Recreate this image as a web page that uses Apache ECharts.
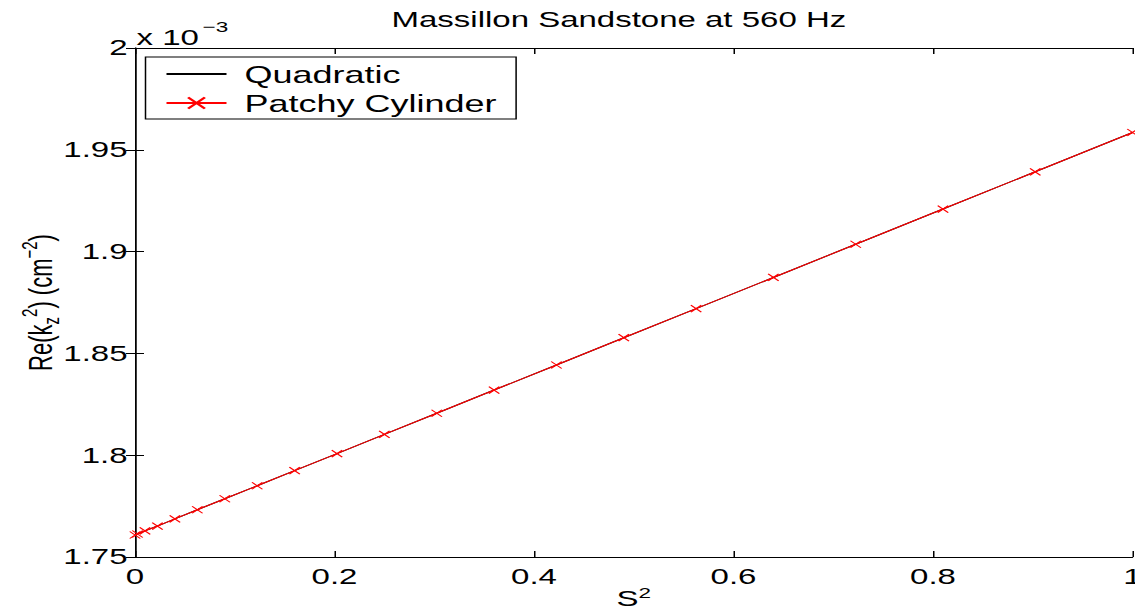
<!DOCTYPE html>
<html lang="en">
<head>
    <meta charset="UTF-8">
    <title>Massillon Sandstone at 560 Hz</title>
    <script src="https://cdn.jsdelivr.net/npm/echarts@6/dist/echarts.min.js"></script>
    <style>
        html, body { margin: 0; padding: 0; background: #fff; overflow: hidden; }
        /* the original figure is stretched sideways, so draw narrow and scale in x */
        #main { width: 757px; height: 615px; transform: scaleX(1.5); transform-origin: 0 0; }
    </style>
</head>
<body>
<div id="main"></div>
</body>
<script>
    // S^2 values where the patchy cylinder model was evaluated
    let sSquared = [0, 0.0025, 0.01, 0.0225, 0.04, 0.0625, 0.09, 0.1225, 0.16, 0.2025, 0.25,
        0.3025, 0.36, 0.4225, 0.49, 0.5625, 0.64, 0.7225, 0.81, 0.9025, 1];
    // Re(kz^2) in units of 1e-3 cm^-2
    let quadratic = [1.7608, 1.7613, 1.7628, 1.7652, 1.7687, 1.7732, 1.7786, 1.7850, 1.7924, 1.8008, 1.8102,
        1.8206, 1.8320, 1.8443, 1.8577, 1.8720, 1.8873, 1.9036, 1.9209, 1.9392, 1.9585];
    let patchy = [1.7608, 1.7613, 1.7628, 1.7652, 1.7687, 1.7732, 1.7786, 1.7850, 1.7924, 1.8008, 1.8102,
        1.8206, 1.8320, 1.8443, 1.8577, 1.8720, 1.8873, 1.9036, 1.9209, 1.9392, 1.9585];
    let seriesNames = ['Quadratic', 'Patchy Cylinder'];

    let font = 'Liberation Sans, Arial, Helvetica, sans-serif';
    let richY = {
        b: {fontSize: 22, fontFamily: font, color: '#000', lineHeight: 30},
        sup: {fontSize: 15, fontFamily: font, color: '#000', verticalAlign: 'top', lineHeight: 30},
        sub: {fontSize: 15, fontFamily: font, color: '#000', verticalAlign: 'bottom', lineHeight: 30}
    };
    let richX = {
        b: {fontSize: 22, fontFamily: font, color: '#000', lineHeight: 28},
        sup: {fontSize: 15, fontFamily: font, color: '#000', verticalAlign: 'top', lineHeight: 28}
    };
    let xMark = 'path://M0,0L10,10M10,0L0,10';
    let noMark = 'path://M0,0L1,1'; // zero-area, so nothing gets filled

    function pairs(xs, ys) {
        let out = [];
        for (let i = 0; i < xs.length; i++) out.push([xs[i], ys[i]]);
        return out;
    }

    let axisCommon = {
        axisLine: {show: true, lineStyle: {color: '#000', width: 1}},
        axisTick: {show: true, inside: true, length: 6, lineStyle: {color: '#000', width: 1}},
        splitLine: {show: false}
    };

    let myChart = echarts.init(document.getElementById('main'), null, {renderer: 'svg'});
    let option = {
        animation: false,
        backgroundColor: '#fff',
        title: {
            text: 'Massillon Sandstone at 560 Hz',
            left: 261,
            top: 9,
            padding: 0,
            textStyle: {fontSize: 22, fontWeight: 'normal', fontFamily: font, color: '#000'}
        },
        legend: {
            orient: 'vertical',
            left: 97,
            top: 57,
            padding: [5, 13, 4, 13],
            itemWidth: 40,
            itemHeight: 14,
            itemGap: 5,
            borderColor: '#000',
            borderWidth: 1,
            backgroundColor: '#fff',
            data: seriesNames,
            textStyle: {fontSize: 24, fontFamily: font, color: '#000', lineHeight: 24, padding: [0, 0, 0, 7]}
        },
        grid: {left: 90, right: 2, top: 48, bottom: 58, outerBoundsMode: 'none', containLabel: false},
        xAxis: [
            Object.assign({
                type: 'value',
                min: 0,
                max: 1,
                interval: 0.2,
                name: '{b|S}{sup|2}',
                nameLocation: 'middle',
                nameGap: 28,
                nameMoveOverlap: false,
                nameTextStyle: {rich: richX},
                axisLabel: {fontSize: 22, fontFamily: font, color: '#000', margin: 9}
            }, axisCommon),
            Object.assign({
                type: 'value',
                position: 'top',
                min: 0,
                max: 1,
                interval: 0.2,
                axisLabel: {show: false}
            }, axisCommon)
        ],
        yAxis: [
            Object.assign({
                type: 'value',
                min: 1.75,
                max: 2,
                interval: 0.05,
                name: '{b|Re(k}{sub|z}{sup|2}{b|) (cm}{sup|−2}{b|)}',
                nameLocation: 'middle',
                nameGap: 48,
                nameMoveOverlap: false,
                nameTextStyle: {rich: richY},
                axisLabel: {fontSize: 22, fontFamily: font, color: '#000', margin: 5}
            }, axisCommon),
            Object.assign({
                type: 'value',
                position: 'right',
                min: 1.75,
                max: 2,
                interval: 0.05,
                axisLabel: {show: false}
            }, axisCommon)
        ],
        graphic: [
            { // exponent of the y axis
                type: 'text',
                left: 91,
                top: 27,
                style: {text: 'x 10', fontSize: 22, fontFamily: font, fill: '#000'}
            },
            {
                type: 'text',
                left: 135,
                top: 19,
                style: {text: '−3', fontSize: 15, fontFamily: font, fill: '#000'}
            }
        ],
        series: [
            {
                name: seriesNames[0],
                type: 'line',
                data: pairs(sSquared, quadratic),
                symbol: noMark,
                showSymbol: false,
                itemStyle: {color: '#000', borderWidth: 0},
                lineStyle: {color: '#000', width: 1},
                z: 2
            },
            {
                name: seriesNames[1],
                type: 'line',
                data: pairs(sSquared, patchy),
                symbol: xMark,
                symbolSize: 7,
                itemStyle: {color: '#ff0000', borderColor: '#ff0000', borderWidth: 1},
                lineStyle: {color: '#ff0000', width: 1},
                z: 3
            }
        ]
    };
    myChart.setOption(option);
</script>
</html>
